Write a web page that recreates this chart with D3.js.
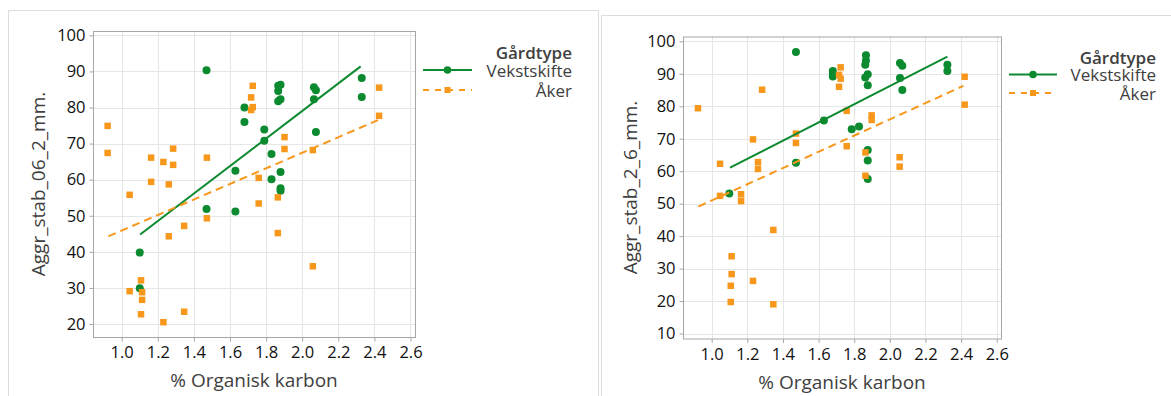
<!DOCTYPE html>
<html><head><meta charset="utf-8">
<script src="https://cdn.jsdelivr.net/npm/d3@7"></script>
<style>
body{margin:0;background:#fff;}
svg{display:block;font-family:"Open Sans","Noto Sans",sans-serif;}
</style>
</head><body>
<svg id="chart" width="1171" height="396"></svg>
<script>
// ---------- data ----------
const xTickValues = [1.0, 1.2, 1.4, 1.6, 1.8, 2.0, 2.2, 2.4, 2.6];
const yTicksLeft = [20, 30, 40, 50, 60, 70, 80, 90, 100];
const yTicksRight = [10, 20, 30, 40, 50, 60, 70, 80, 90, 100];
const groupTitle = "Gårdtype";
const groupNames = ["Vekstskifte", "Åker"];
const xTitle = "% Organisk karbon";
const yTitleLeft = "Aggr_stab_06_2_mm.";
const yTitleRight = "Aggr_stab_2_6_mm.";

// Left panel: Aggr_stab_06_2_mm.
const leftVekstX = [1.10, 1.10, 1.47, 1.47, 1.63, 1.63, 1.68, 1.68, 1.79, 1.79, 1.83, 1.83, 1.867, 1.867, 1.867, 1.88, 1.88, 1.88, 1.88, 1.88, 2.065, 2.076, 2.065, 2.076, 2.33, 2.33];
const leftVekstY = [29.9, 39.8, 51.9, 90.3, 51.2, 62.5, 76.0, 80.0, 70.8, 73.9, 60.1, 67.1, 81.7, 84.6, 86.0, 86.3, 82.3, 62.1, 57.6, 56.9, 85.6, 84.8, 82.3, 73.2, 88.2, 82.9];
const leftAkerX = [0.922, 0.922, 1.044, 1.044, 1.107, 1.107, 1.113, 1.113, 1.163, 1.163, 1.231, 1.231, 1.261, 1.261, 1.285, 1.285, 1.346, 1.346, 1.472, 1.472, 1.717, 1.717, 1.726, 1.726, 1.759, 1.759, 1.865, 1.865, 1.902, 1.902, 2.059, 2.059, 2.426, 2.426];
const leftAkerY = [74.9, 67.4, 55.8, 29.1, 32.1, 22.7, 28.8, 26.7, 66.1, 59.4, 64.9, 20.5, 58.7, 44.3, 68.6, 64.1, 47.2, 23.4, 66.1, 49.3, 82.8, 79.3, 86.0, 80.1, 60.5, 53.4, 55.1, 45.2, 71.8, 68.5, 68.2, 36.0, 85.5, 77.7];
const leftFitVekstX = [1.102, 2.324];
const leftFitVekstY = [44.8, 91.4];
const leftFitAkerX = [0.926, 2.42];
const leftFitAkerY = [44.3, 76.5];

// Right panel: Aggr_stab_2_6_mm.
const rightVekstX = [1.099, 1.473, 1.473, 1.63, 1.68, 1.68, 1.68, 1.786, 1.827, 1.866, 1.866, 1.862, 1.876, 1.862, 1.876, 1.876, 1.876, 1.876, 2.057, 2.07, 2.057, 2.07, 2.323, 2.323];
const rightVekstY = [53.1, 96.7, 62.6, 75.6, 90.9, 90.0, 89.2, 72.9, 73.8, 95.7, 94.1, 92.8, 89.9, 88.9, 86.5, 66.5, 63.3, 57.6, 93.3, 92.5, 88.7, 85.0, 92.8, 90.9];
const rightAkerX = [0.923, 1.047, 1.047, 1.112, 1.112, 1.107, 1.107, 1.165, 1.165, 1.232, 1.232, 1.26, 1.26, 1.283, 1.346, 1.346, 1.473, 1.473, 1.715, 1.715, 1.724, 1.724, 1.758, 1.758, 1.863, 1.863, 1.898, 1.898, 2.055, 2.055, 2.42, 2.42];
const rightAkerY = [79.4, 62.3, 52.4, 33.8, 28.3, 24.7, 19.7, 52.9, 50.8, 69.8, 26.2, 62.8, 60.7, 85.1, 41.9, 19.0, 71.6, 68.7, 89.7, 86.0, 92.0, 88.5, 78.6, 67.7, 65.8, 58.6, 77.2, 75.8, 64.3, 61.4, 89.1, 80.5];
const rightFitVekstX = [1.103, 2.323];
const rightFitVekstY = [61.1, 95.3];
const rightFitAkerX = [0.925, 2.413];
const rightFitAkerY = [49.1, 86.3];

// ---------- style ----------
const GREEN = "#0b8a2f";
const ORANGE = "#f7981d";
const GRID = "#e6e6e6";
const FRAME = "#a6a6a6";

const svg = d3.select("#chart");

// panel outlines
svg.append("path").attr("d", "M8.5,400 V10.5 H598.5 V400")
  .attr("fill", "none").attr("stroke", "#dcdcdc");
svg.append("path").attr("d", "M601.5,400 V15.5 H1180")
  .attr("fill", "none").attr("stroke", "#dcdcdc");

const zip = (a, b) => a.map((v, i) => [v, b[i]]);

const panels = [
  {
    box: {x0: 93, x1: 415, y0: 31, y1: 337},
    xDomain: [0.841, 2.625], yDomain: [16.4, 101.2],
    yTicks: yTicksLeft, yTitle: yTitleLeft, yTitleX: 38,
    vek: zip(leftVekstX, leftVekstY), aker: zip(leftAkerX, leftAkerY),
    fitV: zip(leftFitVekstX, leftFitVekstY), fitA: zip(leftFitAkerX, leftFitAkerY),
    legend: {lx0: 423, lx1: 472, textRight: 572, titleY: 52, y1: 70, y2: 90}
  },
  {
    box: {x0: 683, x1: 1001, y0: 36.5, y1: 338.5},
    xDomain: [0.839, 2.624], yDomain: [8.46, 101.5],
    yTicks: yTicksRight, yTitle: yTitleRight, yTitleX: 630,
    vek: zip(rightVekstX, rightVekstY), aker: zip(rightAkerX, rightAkerY),
    fitV: zip(rightFitVekstX, rightFitVekstY), fitA: zip(rightFitAkerX, rightFitAkerY),
    legend: {lx0: 1009, lx1: 1057, textRight: 1156, titleY: 57, y1: 74.5, y2: 93}
  }
];

panels.forEach(p => {
  const b = p.box;
  const x = d3.scaleLinear().domain(p.xDomain).range([b.x0, b.x1]);
  const y = d3.scaleLinear().domain(p.yDomain).range([b.y1, b.y0]);
  const g = svg.append("g");

  // grid
  g.append("g").selectAll("line").data(xTickValues).join("line")
    .attr("x1", d => Math.round(x(d)) + 0.5).attr("x2", d => Math.round(x(d)) + 0.5)
    .attr("y1", b.y0).attr("y2", b.y1).attr("stroke", GRID).attr("stroke-width", 1);
  g.append("g").selectAll("line").data(p.yTicks).join("line")
    .attr("y1", d => Math.round(y(d)) + 0.5).attr("y2", d => Math.round(y(d)) + 0.5)
    .attr("x1", b.x0).attr("x2", b.x1).attr("stroke", GRID).attr("stroke-width", 1);

  // frame
  g.append("rect").attr("x", b.x0 + 0.5).attr("y", b.y0 + 0.5)
    .attr("width", b.x1 - b.x0).attr("height", b.y1 - b.y0)
    .attr("fill", "none").attr("stroke", FRAME).attr("stroke-width", 1);

  // axes
  const xAxis = d3.axisBottom(x).tickValues(xTickValues).tickFormat(d3.format(".1f")).tickSize(4).tickPadding(5);
  const yAxis = d3.axisLeft(y).tickValues(p.yTicks).tickFormat(d3.format("d")).tickSize(4).tickPadding(4);
  const gx = g.append("g").attr("transform", `translate(0,${b.y1 + 0.5})`).call(xAxis);
  const gy = g.append("g").attr("transform", `translate(${b.x0 + 0.5},0)`).call(yAxis);
  [gx, gy].forEach(a => {
    a.select(".domain").remove();
    a.selectAll(".tick line").attr("stroke", FRAME);
    a.selectAll(".tick text").attr("fill", "#111").attr("font-size", 16.5)
      .attr("font-weight", 500)
      .attr("font-family", "'Open Sans', sans-serif");
  });

  // axis titles
  g.append("text").attr("x", (b.x0 + b.x1) / 2).attr("y", b.y1 + 50)
    .attr("text-anchor", "middle").attr("font-size", 19).attr("fill", "#404040").text(xTitle);
  g.append("text").attr("transform", `translate(${p.yTitleX},${(b.y0 + b.y1) / 2}) rotate(-90)`)
    .attr("text-anchor", "middle").attr("dominant-baseline", "central")
    .attr("font-size", 19).attr("fill", "#404040").text(p.yTitle);

  // points
  const clip = "clip" + b.x0;
  svg.append("clipPath").attr("id", clip).append("rect")
    .attr("x", b.x0).attr("y", b.y0).attr("width", b.x1 - b.x0).attr("height", b.y1 - b.y0);
  const pg = g.append("g").attr("clip-path", `url(#${clip})`);
  pg.append("g").selectAll("circle").data(p.vek).join("circle")
    .attr("cx", d => x(d[0])).attr("cy", d => y(d[1])).attr("r", 4).attr("fill", GREEN);
  const s = 6.5;
  pg.append("g").selectAll("rect").data(p.aker).join("rect")
    .attr("x", d => x(d[0]) - s / 2).attr("y", d => y(d[1]) - s / 2)
    .attr("width", s).attr("height", s).attr("fill", ORANGE);

  // fit lines
  const line = d3.line().x(d => x(d[0])).y(d => y(d[1]));
  pg.append("path").attr("d", line(p.fitV)).attr("fill", "none")
    .attr("stroke", GREEN).attr("stroke-width", 2);
  pg.append("path").attr("d", line(p.fitA)).attr("fill", "none")
    .attr("stroke", ORANGE).attr("stroke-width", 2).attr("stroke-dasharray", "8,5");

  // legend
  const L = p.legend;
  const lg = svg.append("g");
  lg.append("text").attr("x", L.textRight).attr("y", L.titleY).attr("text-anchor", "end")
    .attr("dominant-baseline", "central")
    .attr("font-size", 17).attr("font-weight", 600).attr("fill", "#404040").text(groupTitle);
  lg.append("line").attr("x1", L.lx0).attr("x2", L.lx1).attr("y1", L.y1).attr("y2", L.y1)
    .attr("stroke", GREEN).attr("stroke-width", 2);
  lg.append("circle").attr("cx", (L.lx0 + L.lx1) / 2).attr("cy", L.y1).attr("r", 3.8).attr("fill", GREEN);
  lg.append("line").attr("x1", L.lx0).attr("x2", L.lx1).attr("y1", L.y2).attr("y2", L.y2)
    .attr("stroke", ORANGE).attr("stroke-width", 2).attr("stroke-dasharray", "6,6");
  lg.append("rect").attr("x", (L.lx0 + L.lx1) / 2 - 3).attr("y", L.y2 - 3)
    .attr("width", 6).attr("height", 6).attr("fill", ORANGE);
  lg.append("text").attr("x", L.textRight).attr("y", L.y1).attr("text-anchor", "end")
    .attr("dominant-baseline", "central").attr("font-size", 17).attr("font-weight", 500)
    .attr("fill", "#404040").text(groupNames[0]);
  lg.append("text").attr("x", L.textRight).attr("y", L.y2).attr("text-anchor", "end")
    .attr("dominant-baseline", "central").attr("font-size", 17).attr("font-weight", 500)
    .attr("fill", "#404040").text(groupNames[1]);
});
</script>
</body></html>
